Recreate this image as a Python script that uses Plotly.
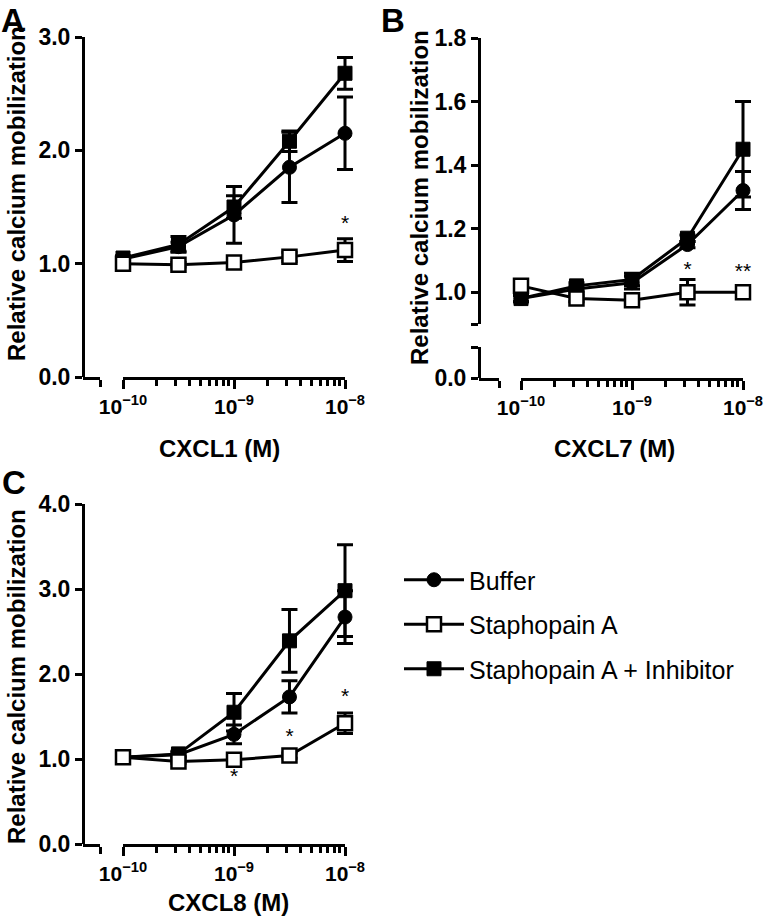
import plotly.graph_objects as go

# ---------------- data ----------------
conc_M = [1e-10, 3.16e-10, 1e-9, 3.16e-9, 1e-8]

series_names = ["Buffer", "Staphopain A", "Staphopain A + Inhibitor"]

# Panel A: CXCL1
buffer_A = [1.04, 1.15, 1.43, 1.85, 2.15]
buffer_A_err = [0.02, 0.04, 0.25, 0.31, 0.32]
staph_A = [1.00, 0.99, 1.01, 1.06, 1.12]
staph_A_err = [0.01, 0.02, 0.02, 0.04, 0.10]
inhib_A = [1.05, 1.17, 1.50, 2.08, 2.68]
inhib_A_err = [0.02, 0.07, 0.10, 0.09, 0.14]
star_A_x = [1e-8]
star_A_y = [1.34]
star_A_txt = ["*"]

# Panel B: CXCL7
buffer_B = [0.98, 1.01, 1.03, 1.15, 1.32]
buffer_B_err = [0.01, 0.01, 0.02, 0.01, 0.06]
staph_B = [1.02, 0.98, 0.975, 1.00, 1.00]
staph_B_err = [0.01, 0.01, 0.01, 0.04, 0.01]
inhib_B = [0.98, 1.02, 1.04, 1.17, 1.45]
inhib_B_err = [0.01, 0.01, 0.02, 0.01, 0.15]
star_B_x = [3.16e-9, 1e-8]
star_B_y = [1.068, 1.062]
star_B_txt = ["*", "**"]

# Panel C: CXCL8
buffer_C = [1.02, 1.05, 1.29, 1.73, 2.67]
buffer_C_err = [0.02, 0.03, 0.11, 0.19, 0.31]
staph_C = [1.02, 0.97, 0.99, 1.04, 1.42]
staph_C_err = [0.01, 0.02, 0.02, 0.03, 0.12]
inhib_C = [1.02, 1.06, 1.55, 2.39, 2.98]
inhib_C_err = [0.02, 0.03, 0.22, 0.37, 0.54]
star_C_x = [1e-9, 3.16e-9, 1e-8]
star_C_y = [0.78, 1.25, 1.72]
star_C_txt = ["*", "*", "*"]

x_tickvals = [1e-10, 1e-9, 1e-8]
x_ticktext = ["10<sup>\u221210</sup>", "10<sup>\u22129</sup>", "10<sup>\u22128</sup>"]
x_minor = [m * 10.0 ** e for e in (-10, -9) for m in range(2, 10)]

yA_ticks = [0, 1, 2, 3]
yB_ticks = [1.0, 1.2, 1.4, 1.6, 1.8]
yC_ticks = [0, 1, 2, 3, 4]

# ---------------- layout helpers ----------------
W, H = 764, 920
FONT = "Liberation Sans, Arial, sans-serif"
LW = 3
PAD = 14  # px of extra room for the data axes so edge error bars are not clipped


def fx(px):
    return px / W


def fy(px):
    return 1 - px / H


def main_xaxis(x0, x1, anchor):
    return dict(
        type="log", domain=[fx(x0), fx(x1)], range=[-10, -8], anchor=anchor,
        showline=True, linecolor="black", linewidth=LW, showgrid=False, zeroline=False,
        ticks="outside", ticklen=9, tickwidth=LW, tickcolor="black",
        tickmode="array", tickvals=x_tickvals, ticktext=x_ticktext,
        tickfont=dict(family=FONT, size=21, color="black", weight="bold"),
        minor=dict(ticks="outside", ticklen=6, tickwidth=2.5, tickcolor="black",
                   tickmode="array", tickvals=x_minor, showgrid=False),
        fixedrange=True, automargin=False,
    )


def data_xaxis(x0, x1, anchor):
    # invisible axis with identical scale, slightly wider domain
    per_decade = (x1 - x0) / 2.0
    e = PAD / per_decade
    return dict(
        type="log", domain=[fx(x0 - PAD), fx(x1 + PAD)], range=[-10 - e, -8 + e], anchor=anchor,
        showline=False, showgrid=False, zeroline=False, showticklabels=False, ticks="",
        fixedrange=True, automargin=False,
    )


def stub_xaxis(x0, x1, anchor):
    return dict(
        domain=[fx(x0), fx(x1)], range=[0, 1], anchor=anchor,
        showline=True, linecolor="black", linewidth=LW, showgrid=False, zeroline=False,
        ticks="outside", ticklen=7, tickwidth=LW, tickcolor="black",
        tickmode="array", tickvals=[1], ticktext=[" "], fixedrange=True, automargin=False,
    )


def yaxis(ytop, ybot, rng, tickvals, ticktext, xpos):
    return dict(
        domain=[fy(ybot), fy(ytop)], range=rng, anchor="free", position=fx(xpos),
        showline=True, linecolor="black", linewidth=LW, showgrid=False, zeroline=False,
        ticks="outside", ticklen=7, tickwidth=LW, tickcolor="black",
        tickmode="array", tickvals=tickvals, ticktext=ticktext,
        tickfont=dict(family=FONT, size=23, color="black", weight="bold"),
        fixedrange=True, automargin=False,
    )


def cap_yaxis(over, rng, capval, xpos):
    # inside-pointing tick that completes the centred cap at the axis break
    return dict(
        overlaying=over, range=rng, anchor="free", position=fx(xpos),
        showline=False, showgrid=False, zeroline=False,
        ticks="inside", ticklen=7, tickwidth=LW, tickcolor="black",
        tickmode="array", tickvals=[capval], showticklabels=False,
        fixedrange=True, automargin=False,
    )


fig = go.Figure()

styles = {
    "Buffer": dict(symbol="circle", size=14, color="black", line=dict(color="black", width=1)),
    "Staphopain A": dict(symbol="square", size=14, color="white", line=dict(color="black", width=2.5)),
    "Staphopain A + Inhibitor": dict(symbol="square", size=14, color="black", line=dict(color="black", width=1)),
}
rank = {"Buffer": 1, "Staphopain A": 2, "Staphopain A + Inhibitor": 3}

panels = [
    ("x7", "y", {"Buffer": (buffer_A, buffer_A_err), "Staphopain A": (staph_A, staph_A_err),
                 "Staphopain A + Inhibitor": (inhib_A, inhib_A_err)},
     (star_A_x, star_A_y, star_A_txt)),
    ("x8", "y2", {"Buffer": (buffer_B, buffer_B_err), "Staphopain A": (staph_B, staph_B_err),
                  "Staphopain A + Inhibitor": (inhib_B, inhib_B_err)},
     (star_B_x, star_B_y, star_B_txt)),
    ("x9", "y4", {"Buffer": (buffer_C, buffer_C_err), "Staphopain A": (staph_C, staph_C_err),
                  "Staphopain A + Inhibitor": (inhib_C, inhib_C_err)},
     (star_C_x, star_C_y, star_C_txt)),
]

draw_order = ["Buffer", "Staphopain A + Inhibitor", "Staphopain A"]

# empty traces so the visible axes (main, stub, cap) get drawn
for xa, ya in (("x", "y"), ("x2", "y"), ("x3", "y3"), ("x4", "y3"), ("x5", "y4"), ("x6", "y4"),
               ("x3", "y5"), ("x3", "y6")):
    fig.add_trace(go.Scatter(x=[None], y=[None], xaxis=xa, yaxis=ya, showlegend=False, hoverinfo="skip"))

for pi, (xa, ya, data, stars) in enumerate(panels):
    for name in draw_order:
        vals, err = data[name]
        fig.add_trace(go.Scatter(
            x=conc_M, y=vals, name=name, xaxis=xa, yaxis=ya,
            mode="lines+markers",
            line=dict(color="black", width=3),
            marker=styles[name],
            error_y=dict(type="data", array=err, visible=True, color="black", thickness=3, width=8),
            showlegend=(pi == 0), legendgroup=name, legendrank=rank[name],
            cliponaxis=False,
        ))
    sx, sy, st = stars
    fig.add_trace(go.Scatter(
        x=sx, y=sy, text=st, mode="text", xaxis=xa, yaxis=ya, showlegend=False,
        textfont=dict(family=FONT, size=21, color="black"), cliponaxis=False,
        hoverinfo="skip",
    ))

fig.update_layout(
    width=W, height=H, margin=dict(l=0, r=0, t=0, b=0, autoexpand=False),
    paper_bgcolor="white", plot_bgcolor="rgba(0,0,0,0)",
    font=dict(family=FONT, color="black"),
    # Panel A
    xaxis=main_xaxis(123, 345, "y"),
    xaxis2=stub_xaxis(83, 100, "y"),
    xaxis7=data_xaxis(123, 345, "y"),
    yaxis=yaxis(37, 377, [0, 3], yA_ticks, ["%.1f" % v for v in yA_ticks], 83),
    # Panel B
    xaxis3=main_xaxis(521, 743, "y3"),
    xaxis4=stub_xaxis(479, 499, "y3"),
    xaxis8=data_xaxis(521, 743, "y2"),
    yaxis2=yaxis(38, 324, [0.9, 1.8], yB_ticks + [0.9], ["%.1f" % v for v in yB_ticks] + [" "], 479),
    yaxis3=yaxis(347, 378, [0, 0.1], [0, 0.1], ["0.0", " "], 479),
    yaxis5=cap_yaxis("y2", [0.9, 1.8], 0.9, 479),
    yaxis6=cap_yaxis("y3", [0, 0.1], 0.1, 479),
    # Panel C
    xaxis5=main_xaxis(123, 345, "y4"),
    xaxis6=stub_xaxis(83, 100, "y4"),
    xaxis9=data_xaxis(123, 345, "y4"),
    yaxis4=yaxis(504, 844, [0, 4], yC_ticks, ["%.1f" % v for v in yC_ticks], 83),
    showlegend=True,
    legend=dict(
        x=fx(399), y=fy(557), xanchor="left", yanchor="top",
        font=dict(family=FONT, size=25, color="black"),
        itemwidth=60, tracegroupgap=9, bgcolor="rgba(0,0,0,0)",
        traceorder="grouped",
    ),
)

ann_font_title = dict(family=FONT, size=24, color="black", weight="bold")
annotations = [
    dict(text="A", x=fx(13), y=1.0, yanchor="top"),
    dict(text="B", x=fx(393), y=1.0, yanchor="top"),
    dict(text="C", x=fx(14), y=fy(482), yanchor="middle"),
]
for a in annotations:
    a.update(xref="paper", yref="paper", showarrow=False, xanchor="center",
             font=dict(family=FONT, size=33, color="black", weight="bold"))

titles = [
    dict(text="Relative calcium mobilization", x=fx(16), y=fy(194), textangle=-90),
    dict(text="Relative calcium mobilization", x=fx(420), y=fy(198), textangle=-90),
    dict(text="Relative calcium mobilization", x=fx(16), y=fy(677), textangle=-90),
    dict(text="CXCL1 (M)", x=fx(219), y=fy(448)),
    dict(text="CXCL7 (M)", x=fx(614), y=fy(448)),
    dict(text="CXCL8 (M)", x=fx(228), y=fy(902)),
]
for t in titles:
    t.update(xref="paper", yref="paper", showarrow=False, xanchor="center", yanchor="middle",
             font=ann_font_title)

fig.update_layout(annotations=annotations + titles)

fig.write_html(
    "out.html",
    config={"displayModeBar": False},
    post_script="document.body.style.margin='0';document.body.style.padding='0';",
)
